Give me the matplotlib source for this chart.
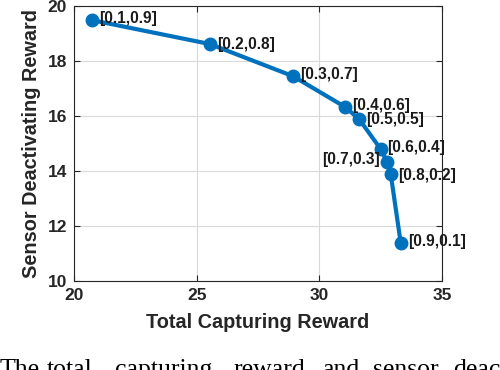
import matplotlib
matplotlib.use("Agg")
import matplotlib.pyplot as plt

total_capturing = [20.73, 25.54, 28.93, 31.05, 31.62, 32.50, 32.77, 32.91, 33.32]
sensor_deactivating = [19.49, 18.62, 17.45, 16.33, 15.89, 14.80, 14.32, 13.89, 11.37]
weight_labels = ["[0.1,0.9]", "[0.2,0.8]", "[0.3,0.7]", "[0.4,0.6]", "[0.5,0.5]",
                 "[0.6,0.4]", "[0.7,0.3]", "[0.8,0.2]", "[0.9,0.1]"]
x_ticks = [20, 25, 30, 35]
y_ticks = [10, 12, 14, 16, 18, 20]
caption_words = ["The", "total", "capturing", "reward", "and", "sensor", "deac"]

plt.rcParams['font.family'] = ['Liberation Sans', 'DejaVu Sans']

fig = plt.figure(figsize=(5, 3.7), dpi=100)
ax = fig.add_axes([0.148, 0.2405, 0.736, 0.743])

color = "#0072BD"
ax.plot(total_capturing, sensor_deactivating, color=color, linewidth=3,
        marker='o', markersize=9, zorder=3)

offsets = [(5, 1), (5, 0), (5, 1), (5, 1), (5, 0), (5, 1), (-5, 2), (5, -1), (5, 1)]
for x, y, lab, off in zip(total_capturing, sensor_deactivating, weight_labels, offsets):
    ha = 'left' if off[0] > 0 else 'right'
    ax.annotate(lab, (x, y), xytext=off, textcoords='offset points',
                ha=ha, va='center', fontsize=11.2, fontweight='bold', color='#1a1a1a')

ax.set_xlim(20, 35)
ax.set_ylim(10, 20)
ax.set_xticks(x_ticks)
ax.set_yticks(y_ticks)
ax.grid(True, color='#d9d9d9', linewidth=0.8)
ax.set_axisbelow(True)
ax.tick_params(direction='in', top=True, right=True, length=4, width=0.8,
               labelsize=12.5, colors='#262626', pad=5)
for lbl in ax.get_xticklabels() + ax.get_yticklabels():
    lbl.set_fontweight('bold')
for s in ax.spines.values():
    s.set_color('#262626')
    s.set_linewidth(0.8)
ax.set_xlabel("Total Capturing Reward", fontsize=14.3, fontweight='bold', color='#262626', labelpad=7)
ax.set_ylabel("Sensor Deactivating Reward", fontsize=14.3, fontweight='bold', color='#262626', labelpad=5)

caption_x = [0, 47, 115, 233, 322, 373, 453]
for w, xp in zip(caption_words, caption_x):
    fig.text(xp / 500, -0.016, w, fontsize=18.5, family='Liberation Serif',
             ha='left', va='baseline', color='black')

fig.savefig("out.png", dpi=100)
